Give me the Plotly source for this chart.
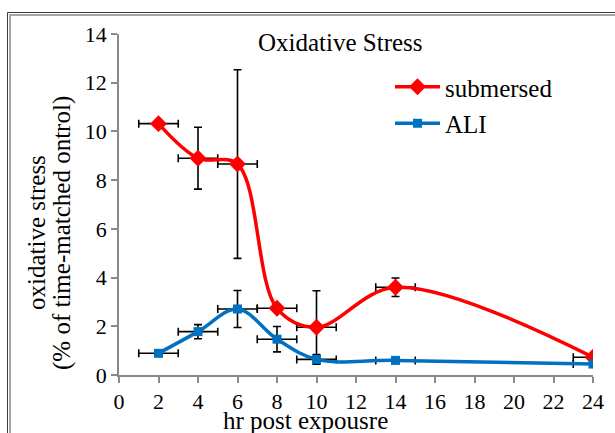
import plotly.graph_objects as go

hours = [2, 4, 6, 8, 10, 14, 24]
submersed = [10.32, 8.9, 8.66, 2.74, 1.96, 3.6, 0.73]
submersed_err = [0.05, 1.27, 3.87, 0.1, 1.5, 0.38, 0.05]
ali = [0.89, 1.78, 2.71, 1.47, 0.64, 0.6, 0.45]
ali_err = [0.05, 0.29, 0.76, 0.52, 0.2, 0.05, 0.05]
time_err = [1, 1, 1, 1, 1, 1, 1]
x_ticks = list(range(0, 25, 2))
y_ticks = list(range(0, 15, 2))

FONT = "Liberation Serif"
L, R, T, B = 119, 22, 34, 58
W, H = 615, 433
PW, PH = W - L - R, H - T - B


def px(xp):
    return (xp - L) / PW


def py(yp):
    return (H - B - yp) / PH


fig = go.Figure()
fig.add_trace(go.Scatter(
    x=hours, y=submersed, name="submersed", mode="lines+markers", legendgroup="a",
    line=dict(color="#ff0000", width=3.5, shape="spline", smoothing=1),
    marker=dict(symbol="diamond", size=13, color="#ff0000"),
    error_y=dict(type="data", array=submersed_err, color="black", thickness=1.6, width=4),
    error_x=dict(type="data", array=time_err, color="black", thickness=1.6, width=4),
))
fig.add_trace(go.Scatter(
    x=hours, y=ali, name="ALI", mode="lines+markers", legendgroup="b",
    line=dict(color="#0070c0", width=3.5, shape="spline", smoothing=1),
    marker=dict(symbol="square", size=9, color="#0070c0"),
    error_y=dict(type="data", array=ali_err, color="black", thickness=1.6, width=4),
    error_x=dict(type="data", array=time_err, color="black", thickness=1.6, width=4),
))

axis_common = dict(showgrid=False, zeroline=False, showline=True, linecolor="#8a8a8a",
                   linewidth=1.5, ticks="outside", tickcolor="#8a8a8a", ticklen=6, tickwidth=1.5,
                   tickfont=dict(family=FONT, size=22, color="black"))

fig.update_layout(
    width=W, height=H,
    margin=dict(l=L, r=R, t=T, b=B),
    paper_bgcolor="white", plot_bgcolor="white",
    font=dict(family=FONT, color="black"),
    showlegend=True,
    legend=dict(x=px(390), y=py(64), xanchor="left", yanchor="top",
                font=dict(family=FONT, size=25, color="black"), itemwidth=45,
                bgcolor="rgba(0,0,0,0)", tracegroupgap=1),
    xaxis=dict(range=[0, 24], tickvals=x_ticks, ticktext=[str(v) for v in x_ticks], **axis_common),
    yaxis=dict(range=[0, 14], tickvals=y_ticks, ticktext=[str(v) for v in y_ticks], **axis_common),
    annotations=[
        dict(text="Oxidative Stress", x=px(340), y=py(43), xref="paper", yref="paper",
             showarrow=False, font=dict(family=FONT, size=25, color="black"),
             xanchor="center", yanchor="middle"),
        dict(text="hr post expousre", x=px(305), y=py(421), xref="paper", yref="paper",
             showarrow=False, font=dict(family=FONT, size=25, color="black"),
             xanchor="center", yanchor="middle"),
        dict(text="oxidative stress", x=px(37), y=py(233), xref="paper", yref="paper",
             showarrow=False, textangle=-90, font=dict(family=FONT, size=25, color="black"),
             xanchor="center", yanchor="middle"),
        dict(text="(% of time-matched ontrol)", x=px(62), y=py(233), xref="paper", yref="paper",
             showarrow=False, textangle=-90, font=dict(family=FONT, size=25, color="black"),
             xanchor="center", yanchor="middle"),
    ],
    shapes=[
        dict(type="rect", xref="paper", yref="paper", x0=px(7.5), y0=py(445), x1=px(630), y1=py(12.5),
             line=dict(color="#3c3c3c", width=1), fillcolor="rgba(0,0,0,0)", layer="below"),
        dict(type="rect", xref="paper", yref="paper", x0=px(10), y0=py(445), x1=px(630), y1=py(15),
             line=dict(color="#a6a6a6", width=2), fillcolor="rgba(0,0,0,0)", layer="below"),
    ],
)

fig.write_html("out.html", config={"displayModeBar": False},
               post_script="document.body.style.margin='0';document.body.style.overflow='hidden';")
